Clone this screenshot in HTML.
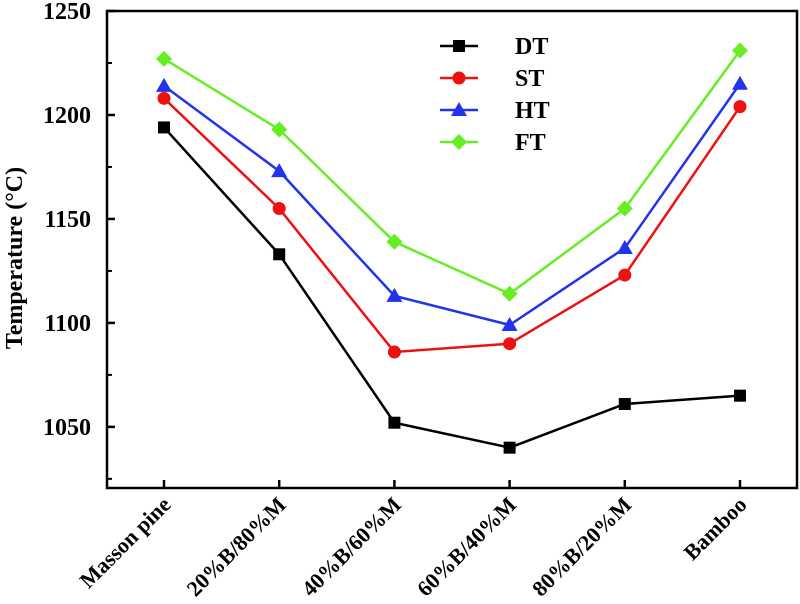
<!DOCTYPE html>
<html><head><meta charset="utf-8"><style>
html,body{margin:0;padding:0;background:#fff;width:800px;height:604px;overflow:hidden}
svg text{font-family:"Liberation Serif",serif;font-weight:bold;fill:#000}
</style></head><body>
<svg id="chart" width="800" height="604" xmlns="http://www.w3.org/2000/svg"></svg>
<script>
const categories=["Masson pine","20%B/80%M","40%B/60%M","60%B/40%M","80%B/20%M","Bamboo"];
const seriesNames=["DT","ST","HT","FT"];
const dtValues=[1194,1133,1052,1040,1061,1065];
const stValues=[1208,1155,1086,1090,1123,1204];
const htValues=[1214,1173,1113,1099,1136,1215];
const ftValues=[1227,1193,1139,1114,1155,1231];
const yTicks=[1050,1100,1150,1200,1250];
const yMinorTicks=[1025,1075,1125,1175,1225];
const colors=["#000000","#ee1111","#2233ee","#66ee22"];
const markers=["square","circle","triangle","diamond"];
const allValues=[dtValues,stValues,htValues,ftValues];

const svg=document.getElementById('chart');
const NS="http://www.w3.org/2000/svg";
const L=107,T=11,R=797,B=488,yMin=1020.6,yMax=1250;
function y(v){return B-(v-yMin)/(yMax-yMin)*(B-T);}
function x(i){return 164+i*115.2;}
function mk(tag,attrs,parent){const e=document.createElementNS(NS,tag);for(const k in attrs)e.setAttribute(k,attrs[k]);(parent||svg).appendChild(e);return e;}

const frame=mk('rect',{x:L,y:T,width:R-L,height:B-T,fill:'none',stroke:'#000','stroke-width':2.5});



yTicks.forEach(v=>{
  const t=mk('line',{x1:L,x2:L+8,y1:y(v),y2:y(v),stroke:'#000','stroke-width':2.5});
  
  
  const lb=mk('text',{x:L-16,y:y(v)+8,'text-anchor':'end','font-size':24});
  lb.textContent=v;
  
  
});
yMinorTicks.forEach(v=>{
  const t=mk('line',{x1:L,x2:L+5,y1:y(v),y2:y(v),stroke:'#000','stroke-width':2});
  
  
});
categories.forEach((c,i)=>{
  const t=mk('line',{x1:x(i),x2:x(i),y1:B,y2:B-8,stroke:'#000','stroke-width':2.5});
  
  
  const lb=mk('text',{x:x(i)+8,y:B+18,'text-anchor':'end','font-size':22,transform:`rotate(-45 ${x(i)+8} ${B+18})`});
  lb.textContent=c;
  
  
});
const yt=mk('text',{x:22,y:258,'text-anchor':'middle','font-size':24,transform:'rotate(-90 22 258)'});
yt.textContent='Temperature (°C)';



function marker(type,cx,cy,col,g){
  let e;
  if(type==='square')e=mk('rect',{x:cx-6,y:cy-6,width:12,height:12,fill:col},g);
  else if(type==='circle')e=mk('circle',{cx:cx,cy:cy,r:6.5,fill:col},g);
  else if(type==='triangle')e=mk('polygon',{points:`${cx},${cy-8} ${cx-8},${cy+6} ${cx+8},${cy+6}`,fill:col},g);
  else e=mk('polygon',{points:`${cx},${cy-8} ${cx+8},${cy} ${cx},${cy+8} ${cx-8},${cy}`,fill:col},g);
  return e;
}
allValues.forEach((vals,s)=>{
  const g=mk('g',{});
  
  
  const pl=mk('polyline',{points:vals.map((v,i)=>x(i)+','+y(v)).join(' '),fill:'none',stroke:colors[s],'stroke-width':2.5},g);
  
  
  vals.forEach((v,i)=>{
    const m=marker(markers[s],x(i),y(v),colors[s],g);
    
    
  });
});
const lg=mk('g',{});


seriesNames.forEach((n,s)=>{
  const ly=46+s*32;
  const ln=mk('line',{x1:440,x2:478,y1:ly,y2:ly,stroke:colors[s],'stroke-width':2.5},lg);
  
  
  const m=marker(markers[s],459,ly,colors[s],lg);
  
  
  const t=mk('text',{x:515,y:ly+8,'font-size':24},lg);
  t.textContent=n;
  
  
});
</script>
</body></html>
